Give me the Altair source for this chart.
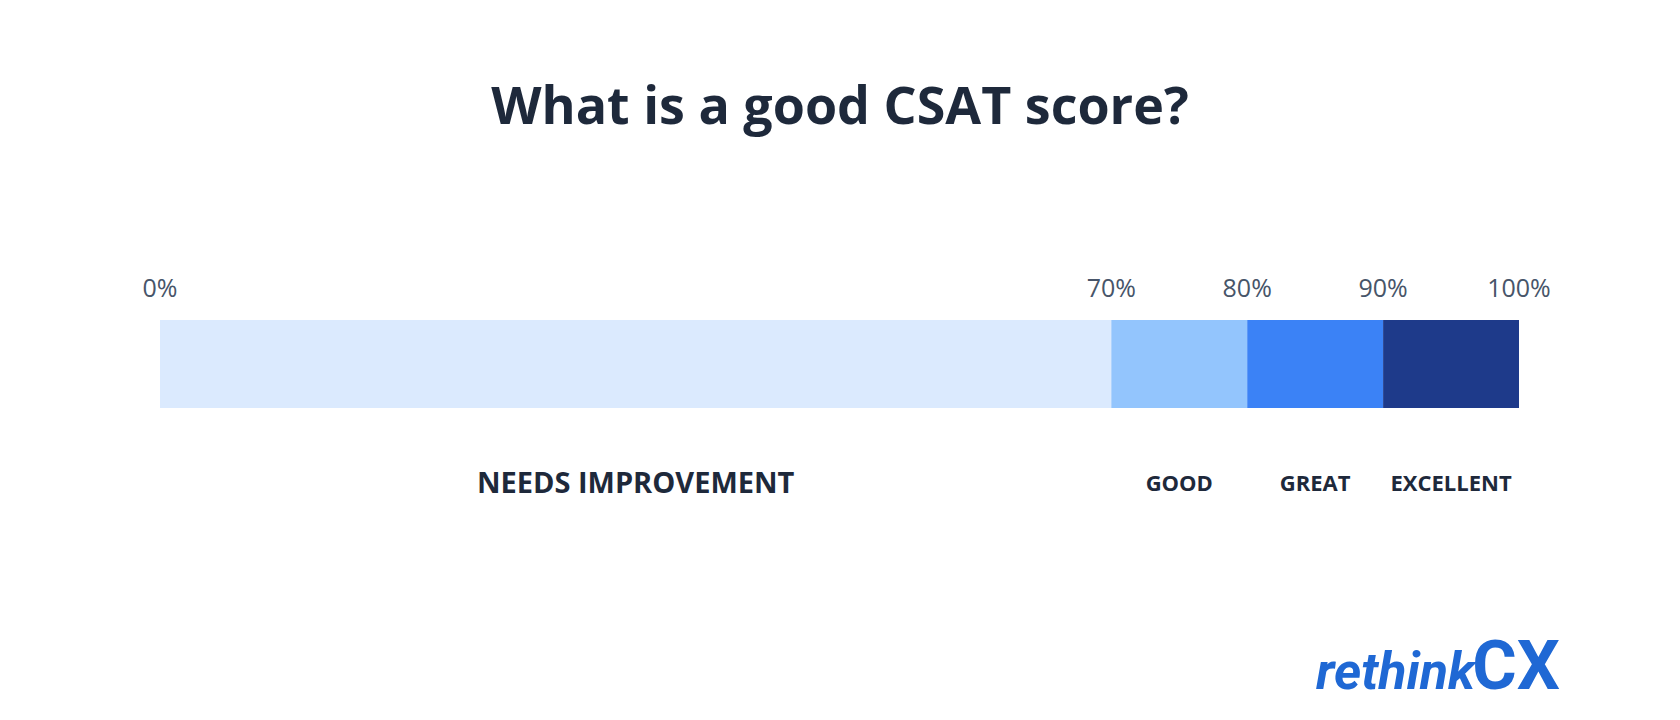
import altair as alt
import pandas as pd

# ---- data ----
seg_labels = ["NEEDS IMPROVEMENT", "GOOD", "GREAT", "EXCELLENT"]
seg_start = [0, 70, 80, 90]
seg_end = [70, 80, 90, 100]
seg_colors = ["#dbeafe", "#93c5fd", "#3b82f6", "#1e3a8a"]
tick_values = [0, 70, 80, 90, 100]
tick_labels = ["0%", "70%", "80%", "90%", "100%"]
title_text = "What is a good CSAT score?"
logo_left = "rethink"
logo_right = "CX"

segments = pd.DataFrame({"label": seg_labels, "start": seg_start, "end": seg_end})
ticks = pd.DataFrame({"value": tick_values, "text": tick_labels})

W, H = 1664, 704
xscale = alt.Scale(domain=[0, 100], range=[152, 1511])

bars = alt.Chart(segments).mark_bar(cornerRadius=0).encode(
    x=alt.X("start:Q", scale=xscale, axis=None),
    x2="end:Q",
    y=alt.value(312),
    y2=alt.value(400),
    color=alt.Color("label:N", scale=alt.Scale(domain=seg_labels, range=seg_colors), legend=None),
)

tick_text = alt.Chart(ticks).mark_text(
    font="Open Sans", fontSize=25, fontWeight=500, color="#475569", baseline="alphabetic", align="center"
).encode(
    x=alt.X("value:Q", scale=xscale, axis=None),
    y=alt.value(289),
    text="text:N",
)

mid = alt.Chart(segments).transform_calculate(mid="(datum.start + datum.end) / 2")

big_label = mid.transform_filter(alt.datum.label == seg_labels[0]).mark_text(
    font="Open Sans", fontSize=29, fontWeight="bold",
    color="#1e293b", baseline="alphabetic", align="center"
).encode(
    x=alt.X("mid:Q", scale=xscale, axis=None),
    y=alt.value(485),
    text="label:N",
)

small_labels = mid.transform_filter(alt.datum.label != seg_labels[0]).mark_text(
    font="Open Sans", fontSize=22, fontWeight="bold",
    color="#1e293b", baseline="alphabetic", align="center"
).encode(
    x=alt.X("mid:Q", scale=xscale, axis=None),
    y=alt.value(483),
    text="label:N",
)

title = alt.Chart(pd.DataFrame({"t": [title_text]})).mark_text(
    font="Open Sans", fontSize=52, fontWeight="bold", color="#1e293b",
    baseline="alphabetic", align="center"
).encode(x=alt.value(832), y=alt.value(116), text="t:N")

logo1 = alt.Chart(pd.DataFrame({"t": [logo_left]})).mark_text(
    font="Roboto", fontSize=52, fontWeight="bold", fontStyle="italic",
    color="#1f68d4", baseline="alphabetic", align="right"
).encode(x=alt.value(1467), y=alt.value(681), text="t:N")

logo2 = alt.Chart(pd.DataFrame({"t": [logo_right]})).mark_text(
    font="Roboto", fontSize=68, fontWeight="bold",
    color="#1f68d4", baseline="alphabetic", align="right"
).encode(x=alt.value(1552), y=alt.value(681), text="t:N")

chart = alt.layer(bars, tick_text, big_label, small_labels, title, logo1, logo2).properties(
    width=W, height=H, autosize=alt.AutoSizeParams(type="none"), padding=0,
    background="#ffffff"
).configure_view(stroke=None)

chart.save("out.html", embed_options={"renderer": "svg", "actions": False})
